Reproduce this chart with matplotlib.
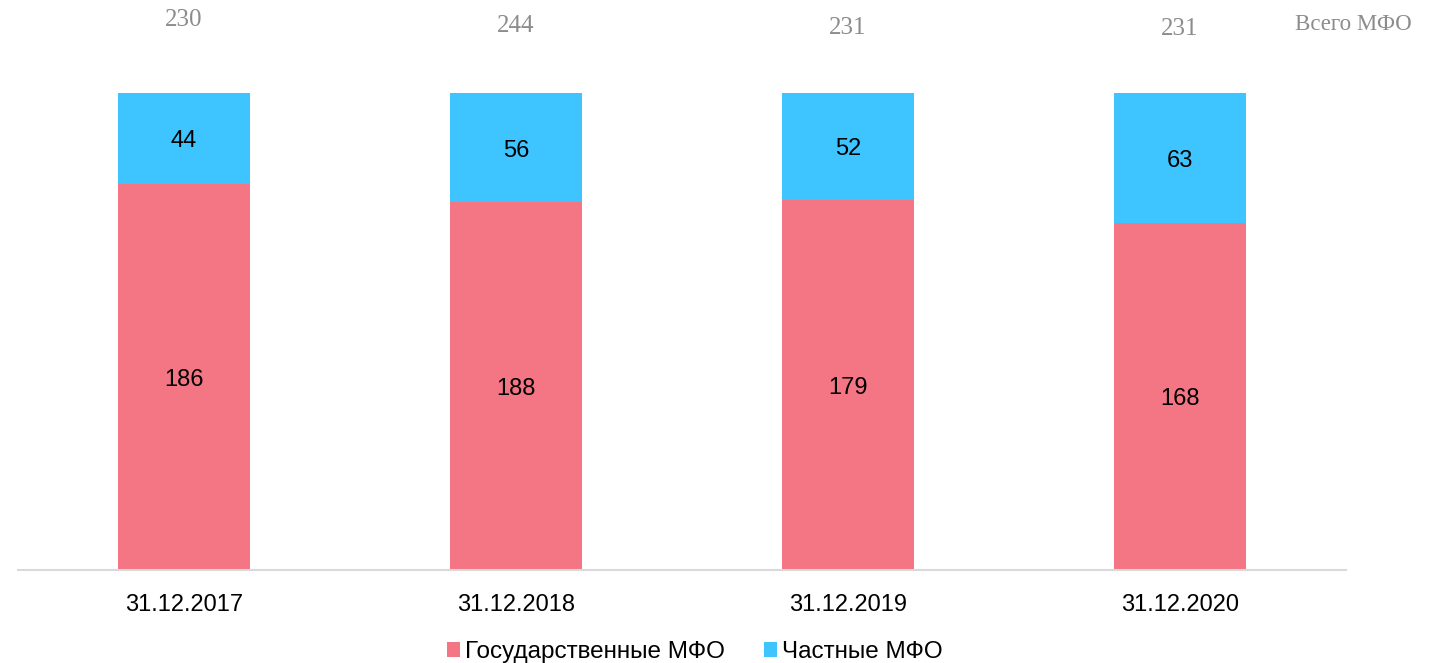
import matplotlib.pyplot as plt
import numpy as np

dates = ["31.12.2017", "31.12.2018", "31.12.2019", "31.12.2020"]
state = [186, 188, 179, 168]
private = [44, 56, 52, 63]
totals = [230, 244, 231, 231]
total_label_y = [1.153, 1.140, 1.136, 1.134]

pink = "#F47684"
blue = "#3EC5FF"

fig = plt.figure(figsize=(14.34, 6.63), dpi=100)
W, H = 1434, 663
ax = fig.add_axes([18 / W, (H - 570) / H, (1346 - 18) / W, (570 - 93) / H])

x = np.arange(len(dates))
st = np.array(state, dtype=float)
pr = np.array(private, dtype=float)
tot = st + pr
st_share = st / tot
pr_share = pr / tot

ax.bar(x, st_share, width=0.4, color=pink, label="Государственные МФО")
ax.bar(x, pr_share, width=0.4, bottom=st_share, color=blue, label="Частные МФО")

for i in range(len(dates)):
    ax.annotate(str(state[i]), (x[i], st_share[i] / 2), xytext=(0, -2), textcoords="offset points",
                ha="center", va="center", fontsize=17, family="Liberation Sans", color="black")
    ax.annotate(str(private[i]), (x[i], st_share[i] + pr_share[i] / 2), xytext=(0, -2),
                textcoords="offset points", ha="center", va="center", fontsize=17,
                family="Liberation Sans", color="black")
    ax.text(x[i], total_label_y[i], str(totals[i]), ha="center", va="center",
            fontsize=18, family="Liberation Serif", color="#8c8c8c", clip_on=False)

fig.text(1412 / W, (H - 24) / H, "Всего МФО", ha="right", va="center", fontsize=16.5,
         family="Liberation Serif", color="#8c8c8c")

ax.set_xlim(-0.5, 3.5)
ax.set_ylim(0, 1)
ax.set_xticks(x)
ax.set_xticklabels(dates, fontsize=17, family="Liberation Sans")
ax.tick_params(axis="x", length=0, pad=17)
ax.set_yticks([])
for s in ["top", "right", "left"]:
    ax.spines[s].set_visible(False)
ax.spines["bottom"].set_color("#d9d9d9")
ax.spines["bottom"].set_linewidth(1.5)

leg = fig.legend(loc="center", bbox_to_anchor=(695 / W, (H - 652) / H), ncol=2,
                 frameon=False, prop={"family": "Liberation Sans", "size": 17.5},
                 handlelength=0.55, handleheight=0.55, handletextpad=0.2,
                 columnspacing=1.6)

fig.savefig("out.png", dpi=100)
